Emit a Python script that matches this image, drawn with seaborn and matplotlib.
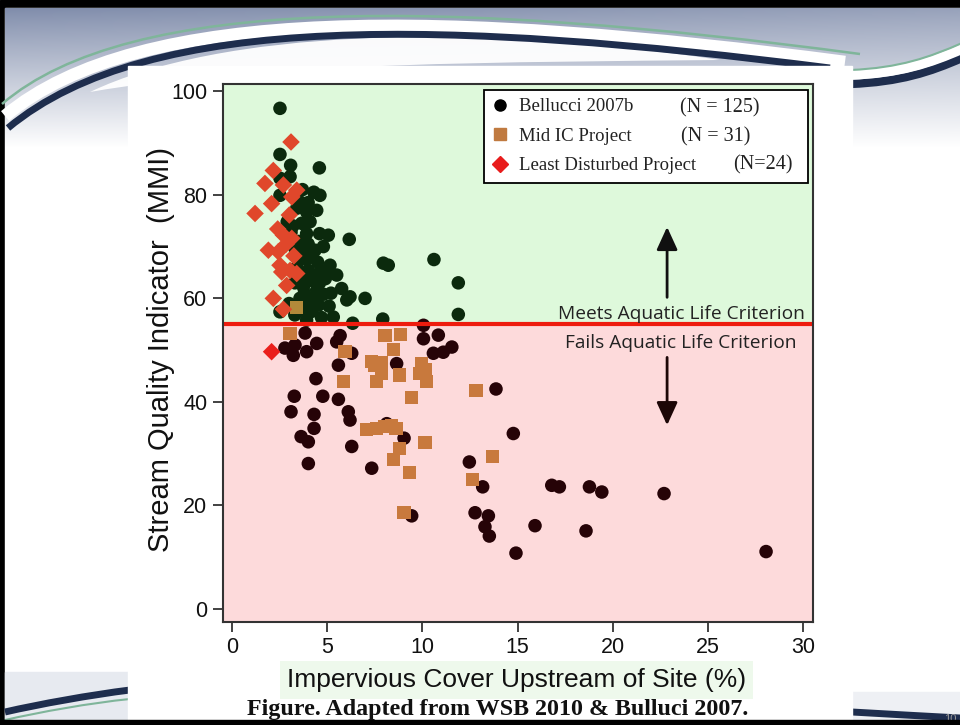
import numpy as np
import pandas as pd
import matplotlib
matplotlib.use("Agg")
import matplotlib.pyplot as plt
import seaborn as sns
from matplotlib.path import Path
from matplotlib.patches import PathPatch, Rectangle
from matplotlib.lines import Line2D

sns.set_theme(style="white")
plt.rcParams["font.family"] = ["Liberation Sans", "DejaVu Sans"]

# ---------------- data: impervious cover (%) vs stream quality (MMI) ----------------
bellucci_ic = [
    2.52, 2.52, 3.08, 4.59, 3.05, 2.52, 4.62, 2.52, 3.57, 4.45, 3.92, 3.40, 3.66, 3.92,
    5.06, 3.31, 4.36, 3.66, 5.15, 4.62, 4.01, 4.10, 3.75, 4.45, 5.76, 6.03, 3.57, 4.36,
    4.54, 2.52, 3.92, 5.32, 6.16, 8.21, 7.95, 10.61, 11.89, 6.20, 6.99, 6.34, 7.92, 11.89,
    10.06,
    3.20, 4.10, 3.50, 4.00, 4.80, 3.90, 4.50, 3.40, 4.90, 3.30, 5.20, 3.90, 4.80, 3.00,
    4.20, 3.30, 2.90, 4.30, 3.70, 4.00, 3.10, 3.80, 4.60, 4.20, 3.60, 4.30, 5.00, 3.80,
    4.60, 5.50, 4.00, 5.10, 3.60, 4.70,
    3.84, 2.78, 3.31, 3.92, 4.45, 5.68, 5.50, 6.29, 10.06, 10.84, 11.55, 11.10, 10.58,
    3.22, 5.59, 4.41, 3.27, 4.77, 5.59, 3.10, 4.31, 6.11, 6.20, 4.31, 3.63, 4.01, 6.29,
    4.01, 7.34, 8.13, 8.65, 9.04, 13.87, 12.47, 13.17, 9.44, 12.77, 13.47, 14.78, 16.80,
    17.20, 18.78, 19.43, 22.70, 13.29, 13.52, 15.92, 18.60, 14.92, 28.06,
]
bellucci_mmi = [
    96.7, 87.8, 85.7, 85.2, 83.5, 83.2, 79.9, 79.9, 78.6, 77.0, 76.7, 77.4, 74.5, 72.5,
    72.2, 69.6, 69.3, 68.0, 66.4, 65.1, 65.4, 63.5, 62.2, 61.6, 61.9, 59.7, 60.0, 60.3,
    58.7, 57.4, 55.8, 56.4, 71.4, 66.4, 66.8, 67.5, 63.0, 60.3, 60.0, 55.2, 56.0, 56.9,
    54.8,
    74.0, 74.8, 71.0, 70.5, 70.0, 67.5, 67.0, 66.0, 63.8, 63.0, 61.0, 59.5, 60.8, 59.0,
    57.5, 56.8, 74.8, 80.5, 81.0, 78.5, 72.8, 70.0, 72.5, 68.4, 64.5, 64.0, 65.5, 61.0,
    63.0, 64.5, 58.3, 58.5, 57.8, 56.3,
    53.3, 50.4, 51.0, 49.7, 51.3, 52.8, 51.6, 49.4, 52.2, 52.9, 50.6, 49.6, 49.4,
    49.0, 47.1, 44.5, 41.1, 41.1, 40.5, 38.1, 37.6, 38.1, 36.5, 34.9, 33.3, 32.3, 31.4,
    28.1, 27.2, 35.8, 47.4, 33.0, 42.5, 28.4, 23.6, 18.0, 18.6, 18.0, 33.9, 23.9,
    23.6, 23.6, 22.6, 22.3, 15.9, 14.1, 16.1, 15.1, 10.8, 11.1,
]
midic_ic = [
    3.40, 3.05, 5.94, 8.04, 8.86, 8.48, 7.51, 7.87, 7.87, 7.60, 8.79, 9.97, 9.88, 10.23,
    9.41, 12.82, 7.08, 7.60, 8.39, 8.62, 10.14, 8.79, 8.48, 9.32, 13.70, 12.65, 9.04,
    5.85, 7.35, 10.15, 8.00,
]
midic_mmi = [
    58.2, 53.2, 49.7, 52.9, 53.0, 50.2, 47.1, 47.6, 45.5, 43.9, 45.2, 47.4, 45.5, 44.0,
    40.8, 42.2, 34.6, 34.9, 35.5, 34.9, 32.1, 31.0, 28.9, 26.3, 29.5, 25.0, 18.6,
    43.9, 47.8, 46.3, 35.2,
]
least_ic = [
    3.10, 2.17, 1.73, 2.70, 3.40, 3.14, 2.08, 1.21, 3.01, 2.70, 3.14, 1.91, 2.43, 2.52,
    3.05, 3.40, 2.87, 2.17, 2.70, 2.08, 2.61, 2.40, 3.25, 2.85,
]
least_mmi = [
    90.2, 84.7, 82.2, 81.9, 80.9, 79.6, 78.3, 76.4, 76.1, 72.2, 71.6, 69.3, 69.0, 66.4,
    65.4, 64.8, 62.5, 60.0, 57.9, 49.7, 65.1, 73.4, 68.2, 70.5,
]

criterion = 55
series_names = ["Bellucci 2007b", "Mid IC Project", "Least Disturbed Project"]
series_counts = ["(N = 125)", "(N = 31)", "(N=24)"]
x_ticks = [0, 5, 10, 15, 20, 25, 30]
y_ticks = [0, 20, 40, 60, 80, 100]
meets_text = "Meets Aquatic Life Criterion"
fails_text = "Fails Aquatic Life Criterion"

# ---------------- figure and slide decoration ----------------
W, H = 960, 725
fig = plt.figure(figsize=(9.6, 7.25), dpi=100)
bg = fig.add_axes([0, 0, 1, 1], zorder=0)
bg.set_xlim(0, W)
bg.set_ylim(H, 0)
bg.axis("off")

bg.add_patch(Rectangle((0, 0), W, H, color="black", zorder=0))
bg.add_patch(Rectangle((5, 8), W - 5, 711, color="white", zorder=1))

# header gradient, darker at the top left
yy = np.linspace(0, 1, 140)[:, None]
xx = np.linspace(0, 1, 480)[None, :]
t = np.clip(yy ** 0.9 + 0.18 * xx * (1 - yy), 0, 1)[..., None]
top_c = np.array([0.50, 0.55, 0.67])
grad = top_c * (1 - t) + np.ones(3) * t
bg.imshow(grad, extent=(5, W, 148, 8), aspect="auto", zorder=2, interpolation="bilinear")


def bez(p, **kw):
    bg.add_patch(PathPatch(Path(p, [Path.MOVETO] + [Path.CURVE4] * (len(p) - 1)),
                           fill=False, capstyle="butt", **kw))


# swoosh: white highlight lens, white band, green pinstripe and navy ribbon
lens = [(90, 92), (220, 30), (470, 22), (720, 60), (520, 62), (260, 62), (90, 92)]
bg.add_patch(PathPatch(Path(lens, [Path.MOVETO] + [Path.CURVE4] * 6),
                       facecolor="white", edgecolor="none", alpha=0.95, zorder=3))
bez([(5, 116), (140, 3), (450, 10), (845, 62)], lw=9, color="white", zorder=3)
bez([(2, 104), (130, -6), (450, -1), (860, 54)], lw=1.8, color="#7fb59a", zorder=4)
bez([(8, 128), (150, 10), (450, 20), (830, 68)], lw=5, color="#1e2d4d", zorder=4)

# right-hand swoosh beside the card
bez([(850, 84), (900, 82), (930, 72), (962, 58)], lw=6, color="#1e2d4d", zorder=4)
bez([(850, 75), (900, 73), (930, 63), (962, 49)], lw=7, color="white", zorder=4)
bez([(850, 70), (900, 68), (930, 57), (962, 43)], lw=1.5, color="#7fb59a", zorder=4)

# lower corners
bg.add_patch(Rectangle((5, 672), 125, 47, color="#e7eaf0", zorder=2))
bez([(5, 712), (40, 704), (90, 695), (130, 690)], lw=5, color="#1e2d4d", zorder=4)
bez([(5, 720), (40, 712), (90, 703), (130, 699)], lw=1.5, color="#7fb59a", zorder=4)
bg.add_patch(Rectangle((850, 692), 110, 27, color="#eef0f4", zorder=2))
bez([(852, 712), (890, 714), (920, 716), (960, 718)], lw=5, color="#1e2d4d", zorder=4)
bg.text(944, 719, "10", fontsize=8, color="#999999", va="center", ha="left", zorder=5)

# pasted chart card
bg.add_patch(Rectangle((128, 66), 724, 660, color="white", zorder=5))
bg.add_patch(Rectangle((0, 720), W, 5, color="black", zorder=6))

# ---------------- main chart ----------------
ax = fig.add_axes([222.5 / W, 1 - 622 / H, 590 / W, 538 / H], zorder=2)
xlim = (-0.5, 30.5)
ylim = (-2.5, 101.4)
ax.set_xlim(*xlim)
ax.set_ylim(*ylim)

green_bg, pink_bg = "#def9db", "#fddadb"
ax.axhspan(criterion, ylim[1], color=green_bg, lw=0, zorder=0)
ax.axhspan(ylim[0], criterion, color=pink_bg, lw=0, zorder=0)

zone_colors = {
    "Bellucci 2007b": {"meets": "#0b2a0d", "fails": "#260307"},
    "Mid IC Project": {"meets": "#b38a3a", "fails": "#c8793d"},
    "Least Disturbed Project": {"meets": "#e0472b", "fails": "#ea1f1c"},
}
markers = {"Bellucci 2007b": "o", "Mid IC Project": "s", "Least Disturbed Project": "D"}
sizes = {"Bellucci 2007b": 95, "Mid IC Project": 90, "Least Disturbed Project": 80}
series = {
    "Bellucci 2007b": (bellucci_ic, bellucci_mmi),
    "Mid IC Project": (midic_ic, midic_mmi),
    "Least Disturbed Project": (least_ic, least_mmi),
}

for z, name in enumerate(series_names):
    ic, mmi = series[name]
    df = pd.DataFrame({"ic": ic, "mmi": mmi})
    df["zone"] = np.where(df["mmi"] >= criterion, "meets", "fails")
    sns.scatterplot(data=df, x="ic", y="mmi", hue="zone", palette=zone_colors[name],
                    marker=markers[name], s=sizes[name], linewidth=0, legend=False,
                    ax=ax, zorder=3 + z)

ax.axhline(criterion, color="#ee1c0e", lw=3, zorder=7)

# criterion labels and arrows
ax.text(23.6, 56.9, meets_text, ha="center", va="center", fontsize=13.8,
        family=["Open Sans", "DejaVu Sans"], color="#222222", zorder=8)
ax.text(23.6, 51.3, fails_text, ha="center", va="center", fontsize=13.8,
        family=["Open Sans", "DejaVu Sans"], color="#222222", zorder=8)
arrow_style = dict(arrowstyle="-|>,head_width=0.32,head_length=0.7",
                   mutation_scale=20, lw=2, shrinkA=0, shrinkB=0)
ax.annotate("", xy=(22.86, 73.8), xytext=(22.86, 60.2),
            arrowprops=dict(color="#101010", **arrow_style), zorder=8)
ax.annotate("", xy=(22.86, 35.5), xytext=(22.86, 48.6),
            arrowprops=dict(color="#1c0606", **arrow_style), zorder=8)

# axes styling
ax.set_xticks(x_ticks)
ax.set_yticks(y_ticks)
ax.tick_params(axis="both", which="both", bottom=True, left=True, direction="out",
               length=7, width=1.3, color="#333333", labelsize=15.5, labelcolor="#111111", pad=4)
for sp in ax.spines.values():
    sp.set_color("#333333")
    sp.set_linewidth(1.5)
    sp.set_zorder(9)

ax.set_xlabel("Impervious Cover Upstream of Site (%)", fontsize=19, color="#111111",
              bbox=dict(facecolor="#eef9ec", edgecolor="none", pad=5))
ax.set_ylabel("Stream Quality Indicator  (MMI)", fontsize=21, color="#111111")
ax.xaxis.set_label_coords(0.499, -0.086)
ax.yaxis.set_label_coords(-0.080, 0.506)

# legend
handles = [
    Line2D([], [], ls="none", marker="o", markersize=8, color="black"),
    Line2D([], [], ls="none", marker="s", markersize=8, color="#c07a40"),
    Line2D([], [], ls="none", marker="D", markersize=8, color="#e81c1c"),
]
leg = ax.legend(handles, series_names, loc="upper left",
                bbox_to_anchor=(0.443, 0.989, 0.549, 0), mode="expand",
                prop={"family": "Liberation Serif", "size": 13.5},
                frameon=True, fancybox=False, edgecolor="black", framealpha=1,
                facecolor="white", handlelength=0.8, handletextpad=0.6,
                labelspacing=0.66, borderpad=0.45, borderaxespad=0)
leg.get_frame().set_linewidth(1.3)
leg.set_zorder(10)
for txt in leg.get_texts():
    txt.set_color("#222222")

n_pos = [(0.775, 0.956), (0.777, 0.902), (0.865, 0.849)]
for (px, py), label in zip(n_pos, series_counts):
    ax.text(px, py, label, transform=ax.transAxes, ha="left", va="center",
            family="Liberation Serif", fontsize=14.5, color="#222222", zorder=11)

fig.text(498 / W, 1 - 710 / H, "Figure. Adapted from WSB 2010 & Bulluci 2007.",
         ha="center", va="center", family="Liberation Serif", fontweight="bold",
         fontsize=17.3, color="#111111", zorder=12)

fig.savefig("out.png", dpi=100)
